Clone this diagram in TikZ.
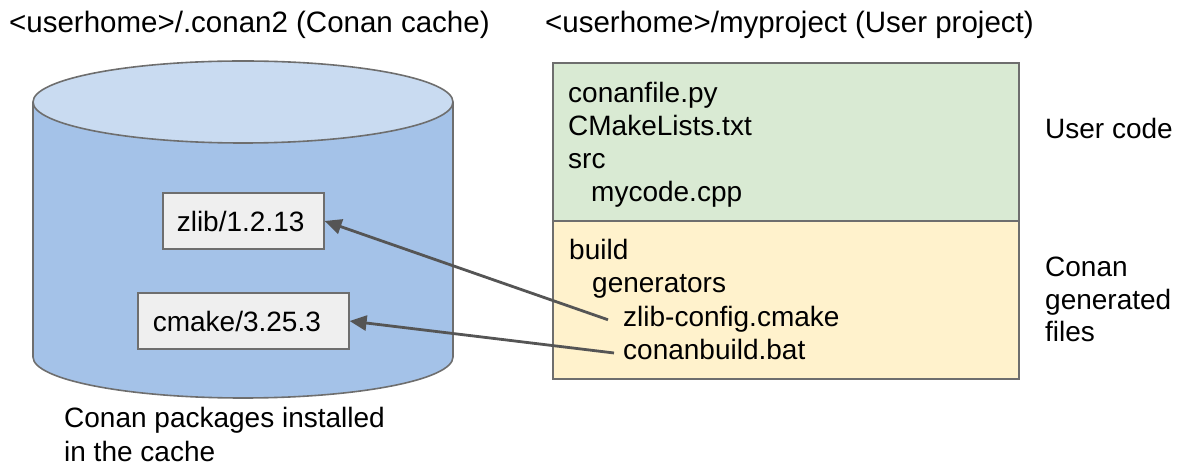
\documentclass[tikz,border=0pt]{standalone}
\usepackage{fontspec}
\setmainfont{Liberation Sans}
\usetikzlibrary{arrows.meta}
\definecolor{cylbody}{HTML}{A4C2E8}
\definecolor{cyltop}{HTML}{C9DBF1}
\definecolor{usergreen}{HTML}{D9EAD3}
\definecolor{genyellow}{HTML}{FFF2CC}
\definecolor{pkgfill}{HTML}{EFEFEF}
\definecolor{edgegray}{HTML}{6E6E6E}
\definecolor{arrowgray}{HTML}{555555}
\tikzset{
  txt/.style={anchor=base west, inner sep=0pt, font=\fontsize{28}{33}\selectfont, text=black},
  ttl/.style={anchor=base west, inner sep=0pt, font=\fontsize{29.5}{35}\selectfont, text=black},
  pkg/.style={draw=edgegray, line width=1.6pt, fill=pkgfill, anchor=west, minimum height=56pt,
    inner ysep=0pt, font=\fontsize{28}{33}\selectfont},
  link/.style={draw=arrowgray, line width=2.8pt, -{Triangle[length=17pt,width=15pt]}},
  shape line/.style={draw=edgegray, line width=1.6pt}
}
\begin{document}
\begin{tikzpicture}[x=1pt,y=1pt]
\useasboundingbox (0,0) rectangle (1184,466);
% cylinder
\fill[cylbody] (33,364) -- (33,109) arc[start angle=180, end angle=360, x radius=210, y radius=41] -- (453,364) -- cycle;
\draw[shape line] (33,364) -- (33,109) arc[start angle=180, end angle=360, x radius=210, y radius=41] -- (453,364);
\filldraw[shape line, fill=cyltop] (243,364) ellipse[x radius=210, y radius=41];
% package boxes
\node[pkg, inner xsep=14pt] (zlib) at (162,245) {\makebox[133pt][l]{zlib/1.2.13}};
\node[pkg, inner xsep=15pt] (cmake) at (137,145) {\makebox[181pt][l]{cmake/3.25.3}};
% project boxes
\filldraw[shape line, fill=usergreen] (553,245) rectangle (1019,403);
\filldraw[shape line, fill=genyellow] (553,87) rectangle (1019,245);
% titles
\node[ttl] (t1) at (9,433) {<userhome>/.conan2 (Conan cache)};
\node[ttl] (t2) at (545,433) {<userhome>/myproject (User project)};
% user code
\node[txt] (cf) at (568,363) {conanfile.py};
\node[txt] (cml) at (568,330) {CMakeLists.txt};
\node[txt] (src) at (568,297) {src};
\node[txt] (myc) at (591,264) {mycode.cpp};
% generated
\node[txt] (bld) at (569,206) {build};
\node[txt] (gen) at (592,173) {generators};
\node[txt, inner xsep=15pt] (zcfg) at (608,139) {zlib-config.cmake};
\node[txt, inner xsep=9pt] (cbat) at (614,106) {conanbuild.bat};
% side labels
\node[txt] (uc) at (1045,327) {User code};
\node[txt] (cg1) at (1045,189) {Conan};
\node[txt] (cg2) at (1045,156) {generated};
\node[txt] (cg3) at (1045,124) {files};
% bottom caption
\node[txt] (cp1) at (64,38) {Conan packages installed};
\node[txt] (cp2) at (64,4) {in the cache};
% arrows
\draw[link] (zcfg.west) -- (zlib.east);
\draw[link] ([yshift=-3pt]cbat.west) -- (cmake.east);
\end{tikzpicture}
\end{document}
